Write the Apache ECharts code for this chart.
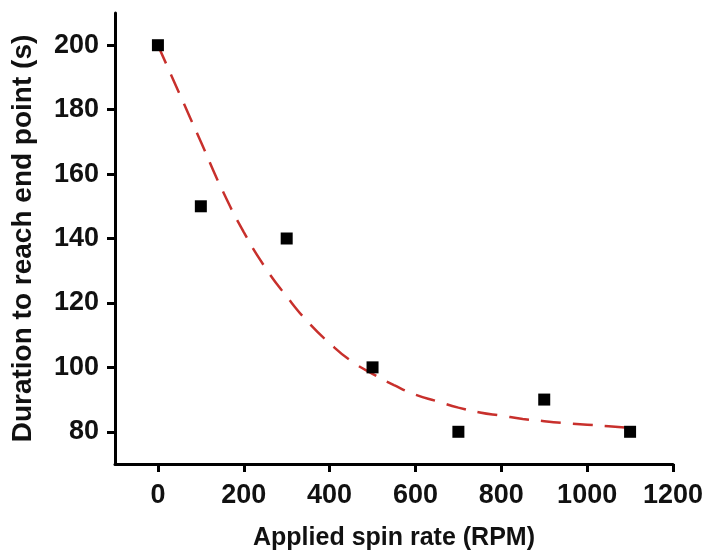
<!DOCTYPE html>
<html>
<head>
<meta charset="utf-8">
<script src="https://cdn.jsdelivr.net/npm/echarts@6/dist/echarts.min.js"></script>
<style>
  html, body { margin: 0; padding: 0; background: #fff; }
  #chart { width: 712px; height: 556px; }
</style>
</head>
<body>
<div id="chart"></div>
<script>
// measured points
const spinRate = [0, 100, 300, 500, 700, 900, 1100];
const duration = [200, 150, 140, 100, 80, 90, 80];

// dashed fit curve
const fitX = [0, 50, 100, 150, 200, 250, 300, 350, 400, 450, 500, 550, 600, 650, 700, 750, 800, 850, 900, 950, 1000, 1050, 1100];
const fitY = [200, 185, 170, 155, 142, 131, 122, 114, 107.5, 102, 98, 94.5, 91.5, 89.5, 87.5, 86, 85, 84, 83.3, 82.7, 82.2, 81.7, 81.2];

const xTicks = [0, 200, 400, 600, 800, 1000, 1200];
const yTicks = [80, 100, 120, 140, 160, 180, 200];

const chart = echarts.init(document.getElementById('chart'));

const font = '"Liberation Sans", Arial, sans-serif';
const axisLine = { show: true, onZero: false, lineStyle: { color: '#000', width: 3 } };
const axisTick = { show: true, inside: false, length: 8, lineStyle: { color: '#000', width: 3 } };
const labelStyle = { fontFamily: font, fontWeight: 'bold', fontSize: 27, color: '#111' };

chart.setOption({
  animation: false,
  backgroundColor: '#fff',
  grid: { left: 115, right: 39, top: 13, bottom: 92, outerBoundsMode: 'none' },
  xAxis: {
    type: 'value',
    min: -100,
    max: 1200,
    name: 'Applied spin rate (RPM)',
    nameLocation: 'middle',
    nameGap: 62,
    nameTextStyle: { fontFamily: font, fontWeight: 'bold', fontSize: 25, color: '#111' },
    axisLine: axisLine,
    axisTick: Object.assign({ customValues: xTicks }, axisTick),
    axisLabel: Object.assign({ customValues: xTicks, margin: 18, formatter: v => String(v) }, labelStyle),
    splitLine: { show: false }
  },
  yAxis: {
    type: 'value',
    min: 70,
    max: 210,
    name: 'Duration to reach end point (s)',
    nameLocation: 'middle',
    nameGap: 78,
    nameTextStyle: { fontFamily: font, fontWeight: 'bold', fontSize: 28, color: '#111' },
    axisLine: axisLine,
    axisTick: Object.assign({ customValues: yTicks }, axisTick),
    axisLabel: Object.assign({ customValues: yTicks, margin: 16, formatter: v => String(v) }, labelStyle),
    splitLine: { show: false }
  },
  series: [
    {
      type: 'line',
      name: 'fit',
      data: fitX.map((x, i) => [x, fitY[i]]),
      smooth: true,
      showSymbol: false,
      lineStyle: { color: '#c8302c', width: 2.5, type: [20, 12] },
      z: 1
    },
    {
      type: 'scatter',
      name: 'measured',
      data: spinRate.map((x, i) => [x, duration[i]]),
      symbol: 'rect',
      symbolSize: 12,
      itemStyle: { color: '#000', opacity: 1 },
      z: 2
    }
  ]
});
</script>
</body>
</html>
